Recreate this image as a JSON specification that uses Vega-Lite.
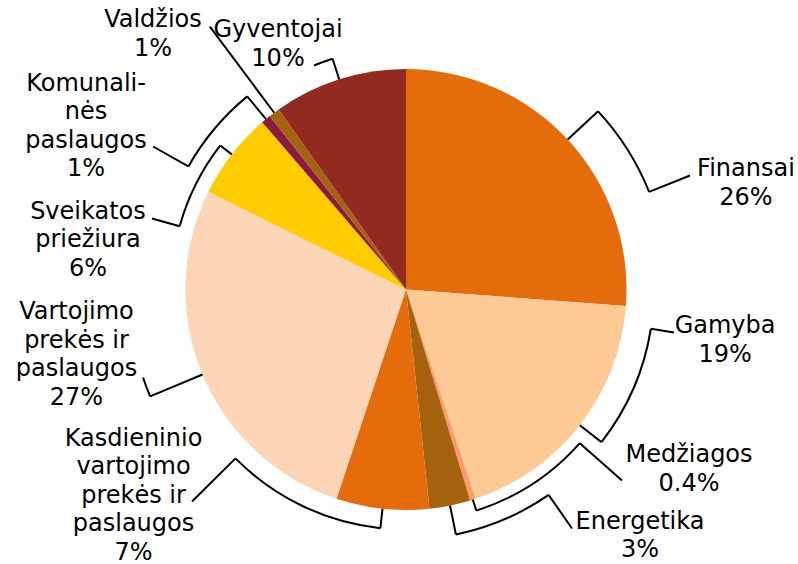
{
  "$schema": "https://vega.github.io/schema/vega-lite/v6.json",
  "width": 784,
  "height": 549,
  "autosize": "none",
  "padding": {"left": 14, "top": 15, "right": 0, "bottom": 0},
  "background": "#ffffff",
  "config": {"view": {"stroke": null}},
  "datasets": {
    "slices": [
      {"name": "Finansai", "value": 26.2, "label": "Finansai\n26%"},
      {"name": "Gamyba", "value": 18.7, "label": "Gamyba\n19%"},
      {"name": "Medžiagos", "value": 0.4, "label": "Medžiagos\n0.4%"},
      {"name": "Energetika", "value": 3.0, "label": "Energetika\n3%"},
      {"name": "Kasdieninio vartojimo prekės ir paslaugos", "value": 6.8, "label": "Kasdieninio\nvartojimo\nprekės ir\npaslaugos\n7%"},
      {"name": "Vartojimo prekės ir paslaugos", "value": 27.2, "label": "Vartojimo\nprekės ir\npaslaugos\n27%"},
      {"name": "Sveikatos priežiura", "value": 6.4, "label": "Sveikatos\npriežiura\n6%"},
      {"name": "Komunalinės paslaugos", "value": 0.7, "label": "Komunali-\nnės\npaslaugos\n1%"},
      {"name": "Valdžios", "value": 0.8, "label": "Valdžios\n1%"},
      {"name": "Gyventojai", "value": 9.8, "label": "Gyventojai\n10%"}
    ]
  },
  "data": {"name": "slices"},
  "layer": [
    {
      "transform": [
        {"window": [{"op": "row_number", "as": "rn"}]},
        {"stack": "value", "groupby": [], "sort": [{"field": "rn", "order": "ascending"}], "as": ["t0", "t1"]}
      ],
      "mark": {"type": "arc", "radius": 220.5},
      "encoding": {
        "theta": {"field": "t0", "type": "quantitative", "scale": {"domain": [0, 100]}, "stack": null},
        "theta2": {"field": "t1"},
        "color": {
          "field": "name", "type": "nominal", "legend": null,
          "scale": {
            "domain": ["Finansai", "Gamyba", "Medžiagos", "Energetika", "Kasdieninio vartojimo prekės ir paslaugos", "Vartojimo prekės ir paslaugos", "Sveikatos priežiura", "Komunalinės paslaugos", "Valdžios", "Gyventojai"],
            "range": ["#E46C0A", "#FDC995", "#FF9A68", "#A5620F", "#E46C0A", "#FBD5B5", "#FFCC00", "#8B1C3F", "#A5620F", "#932A1F"]
          }
        }
      }
    },
    {
      "transform": [
        {"window": [{"op": "row_number", "as": "rn"}]},
        {"fold": ["value", "value"], "as": ["k", "v"]},
        {"stack": "v", "groupby": [], "sort": [{"field": "rn", "order": "ascending"}], "as": ["a0", "a1"]},
        {"joinaggregate": [{"op": "min", "field": "a1", "as": "mid"}], "groupby": ["name"]},
        {"filter": "datum.a1 == datum.mid"}
      ],
      "encoding": {
        "theta": {"field": "mid", "type": "quantitative", "scale": {"domain": [0, 200]}, "stack": null}
      },
      "layer": [
        {"transform": [{"filter": "datum.name == 'Finansai'"}], "mark": {"type": "arc", "radius": 262, "radius2": 220.5, "filled": false, "stroke": "#000", "strokeWidth": 2}, "encoding": {"theta2": {"field": "mid"}}},
        {"transform": [{"filter": "datum.name == 'Finansai'"}], "mark": {"type": "arc", "radius": 262, "radius2": 262, "theta2Offset": 0.366, "filled": false, "stroke": "#000", "strokeWidth": 2}, "encoding": {"theta2": {"field": "mid"}}},
        {"transform": [{"filter": "datum.name == 'Finansai'"}], "mark": {"type": "arc", "radius": 306, "radius2": 262, "thetaOffset": 0.366, "theta2Offset": 0.366, "filled": false, "stroke": "#000", "strokeWidth": 2}, "encoding": {"theta2": {"field": "mid"}}},

        {"transform": [{"filter": "datum.name == 'Gamyba'"}], "mark": {"type": "arc", "radius": 248, "radius2": 220.5, "filled": false, "stroke": "#000", "strokeWidth": 2}, "encoding": {"theta2": {"field": "mid"}}},
        {"transform": [{"filter": "datum.name == 'Gamyba'"}], "mark": {"type": "arc", "radius": 248, "radius2": 248, "theta2Offset": -0.5039, "filled": false, "stroke": "#000", "strokeWidth": 2}, "encoding": {"theta2": {"field": "mid"}}},
        {"transform": [{"filter": "datum.name == 'Gamyba'"}], "mark": {"type": "arc", "radius": 271.4, "radius2": 248, "thetaOffset": -0.5039, "theta2Offset": -0.5039, "filled": false, "stroke": "#000", "strokeWidth": 2}, "encoding": {"theta2": {"field": "mid"}}},

        {"transform": [{"filter": "datum.name == 'Medžiagos'"}], "mark": {"type": "arc", "radius": 232, "radius2": 220.5, "filled": false, "stroke": "#000", "strokeWidth": 2}, "encoding": {"theta2": {"field": "mid"}}},
        {"transform": [{"filter": "datum.name == 'Medžiagos'"}], "mark": {"type": "arc", "radius": 232, "radius2": 232, "theta2Offset": -0.539, "filled": false, "stroke": "#000", "strokeWidth": 2}, "encoding": {"theta2": {"field": "mid"}}},
        {"transform": [{"filter": "datum.name == 'Medžiagos'"}], "mark": {"type": "arc", "radius": 288.3, "radius2": 232, "thetaOffset": -0.539, "theta2Offset": -0.539, "filled": false, "stroke": "#000", "strokeWidth": 2}, "encoding": {"theta2": {"field": "mid"}}},

        {"transform": [{"filter": "datum.name == 'Energetika'"}], "mark": {"type": "arc", "radius": 250, "radius2": 220.5, "filled": false, "stroke": "#000", "strokeWidth": 2}, "encoding": {"theta2": {"field": "mid"}}},
        {"transform": [{"filter": "datum.name == 'Energetika'"}], "mark": {"type": "arc", "radius": 250, "radius2": 250, "theta2Offset": -0.406, "filled": false, "stroke": "#000", "strokeWidth": 2}, "encoding": {"theta2": {"field": "mid"}}},
        {"transform": [{"filter": "datum.name == 'Energetika'"}], "mark": {"type": "arc", "radius": 291, "radius2": 250, "thetaOffset": -0.406, "theta2Offset": -0.406, "filled": false, "stroke": "#000", "strokeWidth": 2}, "encoding": {"theta2": {"field": "mid"}}},

        {"transform": [{"filter": "datum.name == 'Kasdieninio vartojimo prekės ir paslaugos'"}], "mark": {"type": "arc", "radius": 240, "radius2": 220.5, "filled": false, "stroke": "#000", "strokeWidth": 2}, "encoding": {"theta2": {"field": "mid"}}},
        {"transform": [{"filter": "datum.name == 'Kasdieninio vartojimo prekės ir paslaugos'"}], "mark": {"type": "arc", "radius": 240, "radius2": 240, "theta2Offset": 0.6833, "filled": false, "stroke": "#000", "strokeWidth": 2}, "encoding": {"theta2": {"field": "mid"}}},
        {"transform": [{"filter": "datum.name == 'Kasdieninio vartojimo prekės ir paslaugos'"}], "mark": {"type": "arc", "radius": 301.2, "radius2": 240, "thetaOffset": 0.6833, "theta2Offset": 0.6833, "filled": false, "stroke": "#000", "strokeWidth": 2}, "encoding": {"theta2": {"field": "mid"}}},

        {"transform": [{"filter": "datum.name == 'Vartojimo prekės ir paslaugos'"}], "mark": {"type": "arc", "radius": 277.3, "radius2": 220.5, "filled": false, "stroke": "#000", "strokeWidth": 2}, "encoding": {"theta2": {"field": "mid"}}},
        {"transform": [{"filter": "datum.name == 'Vartojimo prekės ir paslaugos'"}], "mark": {"type": "arc", "radius": 277.3, "radius2": 277.3, "theta2Offset": 0.073, "filled": false, "stroke": "#000", "strokeWidth": 2}, "encoding": {"theta2": {"field": "mid"}}},

        {"transform": [{"filter": "datum.name == 'Sveikatos priežiura'"}], "mark": {"type": "arc", "radius": 235, "radius2": 220.5, "filled": false, "stroke": "#000", "strokeWidth": 2}, "encoding": {"theta2": {"field": "mid"}}},
        {"transform": [{"filter": "datum.name == 'Sveikatos priežiura'"}], "mark": {"type": "arc", "radius": 235, "radius2": 235, "theta2Offset": -0.3871, "filled": false, "stroke": "#000", "strokeWidth": 2}, "encoding": {"theta2": {"field": "mid"}}},
        {"transform": [{"filter": "datum.name == 'Sveikatos priežiura'"}], "mark": {"type": "arc", "radius": 263.7, "radius2": 235, "thetaOffset": -0.3871, "theta2Offset": -0.3871, "filled": false, "stroke": "#000", "strokeWidth": 2}, "encoding": {"theta2": {"field": "mid"}}},

        {"transform": [{"filter": "datum.name == 'Komunalinės paslaugos'"}], "mark": {"type": "arc", "radius": 250, "radius2": 220.5, "filled": false, "stroke": "#000", "strokeWidth": 2}, "encoding": {"theta2": {"field": "mid"}}},
        {"transform": [{"filter": "datum.name == 'Komunalinės paslaugos'"}], "mark": {"type": "arc", "radius": 250, "radius2": 250, "theta2Offset": -0.3683, "filled": false, "stroke": "#000", "strokeWidth": 2}, "encoding": {"theta2": {"field": "mid"}}},
        {"transform": [{"filter": "datum.name == 'Komunalinės paslaugos'"}], "mark": {"type": "arc", "radius": 290.6, "radius2": 250, "thetaOffset": -0.3683, "theta2Offset": -0.3683, "filled": false, "stroke": "#000", "strokeWidth": 2}, "encoding": {"theta2": {"field": "mid"}}},

        {"transform": [{"filter": "datum.name == 'Valdžios'"}], "mark": {"type": "arc", "radius": 328, "radius2": 220.5, "filled": false, "stroke": "#000", "strokeWidth": 2}, "encoding": {"theta2": {"field": "mid"}}},

        {"transform": [{"filter": "datum.name == 'Gyventojai'"}], "mark": {"type": "arc", "radius": 242.2, "radius2": 220.5, "filled": false, "stroke": "#000", "strokeWidth": 2}, "encoding": {"theta2": {"field": "mid"}}},
        {"transform": [{"filter": "datum.name == 'Gyventojai'"}], "mark": {"type": "arc", "radius": 242.2, "radius2": 242.2, "theta2Offset": -0.0819, "filled": false, "stroke": "#000", "strokeWidth": 2}, "encoding": {"theta2": {"field": "mid"}}},

        {"transform": [{"filter": "datum.name == 'Finansai'"}], "mark": {"type": "text", "radius": 356.1, "thetaOffset": 0.4454, "dy": -14.25, "font": "DejaVu Sans", "fontSize": 24, "lineHeight": 28.5, "lineBreak": "\n", "align": "center", "baseline": "middle", "color": "#000"}, "encoding": {"text": {"field": "label"}}},
        {"transform": [{"filter": "datum.name == 'Gamyba'"}], "mark": {"type": "text", "radius": 323.1, "thetaOffset": -0.5044, "dy": -14.25, "font": "DejaVu Sans", "fontSize": 24, "lineHeight": 28.5, "lineBreak": "\n", "align": "center", "baseline": "middle", "color": "#000"}, "encoding": {"text": {"field": "label"}}},
        {"transform": [{"filter": "datum.name == 'Medžiagos'"}], "mark": {"type": "text", "radius": 335.4, "thetaOffset": -0.6964, "dy": -14.25, "font": "DejaVu Sans", "fontSize": 24, "lineHeight": 28.5, "lineBreak": "\n", "align": "center", "baseline": "middle", "color": "#000"}, "encoding": {"text": {"field": "label"}}},
        {"transform": [{"filter": "datum.name == 'Energetika'"}], "mark": {"type": "text", "radius": 339.8, "thetaOffset": -0.5585, "dy": -14.25, "font": "DejaVu Sans", "fontSize": 24, "lineHeight": 28.5, "lineBreak": "\n", "align": "center", "baseline": "middle", "color": "#000"}, "encoding": {"text": {"field": "label"}}},
        {"transform": [{"filter": "datum.name == 'Kasdieninio vartojimo prekės ir paslaugos'"}], "mark": {"type": "text", "radius": 341.6, "thetaOffset": 0.8166, "dy": -57, "font": "DejaVu Sans", "fontSize": 24, "lineHeight": 28.5, "lineBreak": "\n", "align": "center", "baseline": "middle", "color": "#000"}, "encoding": {"text": {"field": "label"}}},
        {"transform": [{"filter": "datum.name == 'Vartojimo prekės ir paslaugos'"}], "mark": {"type": "text", "radius": 336.0, "thetaOffset": 0.1993, "dy": -42.75, "font": "DejaVu Sans", "fontSize": 24, "lineHeight": 28.5, "lineBreak": "\n", "align": "center", "baseline": "middle", "color": "#000"}, "encoding": {"text": {"field": "label"}}},
        {"transform": [{"filter": "datum.name == 'Sveikatos priežiura'"}], "mark": {"type": "text", "radius": 321.8, "thetaOffset": -0.5068, "dy": -28.5, "font": "DejaVu Sans", "fontSize": 24, "lineHeight": 28.5, "lineBreak": "\n", "align": "center", "baseline": "middle", "color": "#000"}, "encoding": {"text": {"field": "label"}}},
        {"transform": [{"filter": "datum.name == 'Komunalinės paslaugos'"}], "mark": {"type": "text", "radius": 359.1, "thetaOffset": -0.4115, "dy": -42.75, "font": "DejaVu Sans", "fontSize": 24, "lineHeight": 28.5, "lineBreak": "\n", "align": "center", "baseline": "middle", "color": "#000"}, "encoding": {"text": {"field": "label"}}},
        {"transform": [{"filter": "datum.name == 'Valdžios'"}], "mark": {"type": "text", "radius": 359.2, "thetaOffset": -0.1407, "dy": -14.25, "font": "DejaVu Sans", "fontSize": 24, "lineHeight": 28.5, "lineBreak": "\n", "align": "center", "baseline": "middle", "color": "#000"}, "encoding": {"text": {"field": "label"}}},
        {"transform": [{"filter": "datum.name == 'Gyventojai'"}], "mark": {"type": "text", "radius": 276.4, "thetaOffset": -0.1735, "dy": -14.25, "font": "DejaVu Sans", "fontSize": 24, "lineHeight": 28.5, "lineBreak": "\n", "align": "center", "baseline": "middle", "color": "#000"}, "encoding": {"text": {"field": "label"}}}
      ]
    }
  ],
  "resolve": {"scale": {"theta": "independent"}}
}
